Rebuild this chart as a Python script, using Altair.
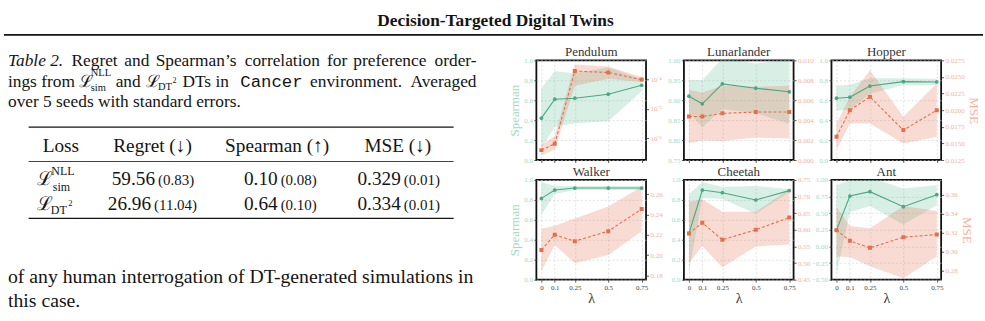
import altair as alt
import pandas as pd

# ---------------------------------------------------------------------------
# Text content of the page fragment
# ---------------------------------------------------------------------------
RUNNING_TITLE = "Decision-Targeted Digital Twins"
TABLE_HEADER = ["Loss", "Regret (↓)", "Spearman (↑)", "MSE (↓)"]
REGRET = ["59.56", "26.96"]
REGRET_SE = ["(0.83)", "(11.04)"]
SPEARMAN_TAB = ["0.10", "0.64"]
SPEARMAN_SE = ["(0.08)", "(0.10)"]
MSE_TAB = ["0.329", "0.334"]
MSE_SE = ["(0.01)", "(0.01)"]
BODY_LINES = ["of any human interrogation of DT-generated simulations in", "this case."]

# ---------------------------------------------------------------------------
# Panel data: lambda sweep, Spearman / MSE means with +-SE bands
# ---------------------------------------------------------------------------
LAMBDAS = [0, 0.1, 0.25, 0.5, 0.75]
ENVS = ["Pendulum", "Lunarlander", "Hopper", "Walker", "Cheetah", "Ant"]

SP_MEAN = {
    "Pendulum": [0.42, 0.61, 0.62, 0.66, 0.75],
    "Lunarlander": [0.910, 0.891, 0.941, 0.930, 0.921],
    "Hopper": [0.620, 0.630, 0.742, 0.786, 0.783],
    "Walker": [0.815, 0.899, 0.919, 0.919, 0.919],
    "Cheetah": [0.463, 0.899, 0.872, 0.799, 0.893],
    "Ant": [0.245, 0.758, 0.824, 0.597, 0.779],
}
SP_LO = {
    "Pendulum": [0.12, 0.33, 0.37, 0.39, 0.69],
    "Lunarlander": [0.869, 0.832, 0.877, 0.868, 0.840],
    "Hopper": [0.495, 0.505, 0.665, 0.752, 0.752],
    "Walker": [0.650, 0.860, 0.898, 0.898, 0.898],
    "Cheetah": [0.070, 0.820, 0.810, 0.660, 0.876],
    "Ant": [-0.420, 0.517, 0.607, 0.330, 0.620],
}
SP_HI = {
    "Pendulum": [0.72, 0.89, 0.87, 0.93, 0.81],
    "Lunarlander": [0.951, 0.950, 1.005, 0.992, 1.002],
    "Hopper": [0.745, 0.755, 0.820, 0.820, 0.814],
    "Walker": [0.980, 0.938, 0.940, 0.940, 0.940],
    "Cheetah": [0.856, 0.980, 0.930, 0.940, 0.910],
    "Ant": [0.920, 1.000, 1.040, 0.870, 0.920],
}
MSE_MEAN = {
    "Pendulum": [4.0e-7, 6.6e-7, 1.9e-4, 1.7e-4, 9.8e-5],
    "Lunarlander": [0.00437, 0.00437, 0.00468, 0.00481, 0.00481],
    "Hopper": [0.0160, 0.0200, 0.0220, 0.0170, 0.0200],
    "Walker": [0.2051, 0.2200, 0.2137, 0.2236, 0.2455],
    "Cheetah": [0.589, 0.621, 0.570, 0.600, 0.637],
    "Ant": [0.3226, 0.3114, 0.3040, 0.3152, 0.3180],
}
MSE_LO = {
    "Pendulum": [2.6e-7, 4.2e-7, 6.0e-5, 1.05e-4, 8.1e-5],
    "Lunarlander": [0.00169, 0.00196, 0.00190, 0.00226, 0.00216],
    "Hopper": [0.0140, 0.0180, 0.0180, 0.0150, 0.0160],
    "Walker": [0.1840, 0.2100, 0.1920, 0.2000, 0.2236],
    "Cheetah": [0.500, 0.551, 0.487, 0.550, 0.556],
    "Ant": [0.2950, 0.2944, 0.2846, 0.2720, 0.2950],
}
MSE_HI = {
    "Pendulum": [5.8e-7, 1.2e-6, 3.2e-4, 2.7e-4, 1.2e-4],
    "Lunarlander": [0.00705, 0.00678, 0.00746, 0.00736, 0.00746],
    "Hopper": [0.0180, 0.0220, 0.0260, 0.0190, 0.0240],
    "Walker": [0.2260, 0.2290, 0.2360, 0.2480, 0.2676],
    "Cheetah": [0.684, 0.692, 0.654, 0.654, 0.722],
    "Ant": [0.3470, 0.3270, 0.3247, 0.3480, 0.3427],
}

# Axis set-up per environment
SP_DOMAIN = {"Pendulum": [0, 1], "Lunarlander": [0.75, 1.0], "Hopper": [0, 1],
             "Walker": [0, 1], "Cheetah": [0, 1], "Ant": [-0.5, 1.0]}
SP_TICKS = {"Pendulum": [0, 0.2, 0.4, 0.6, 0.8, 1.0],
            "Lunarlander": [0.75, 0.8, 0.85, 0.9, 0.95, 1.0],
            "Hopper": [0, 0.2, 0.4, 0.6, 0.8, 1.0],
            "Walker": [0, 0.2, 0.4, 0.6, 0.8, 1.0],
            "Cheetah": [0, 0.2, 0.4, 0.6, 0.8, 1.0],
            "Ant": [-0.5, -0.25, 0, 0.25, 0.5, 0.75, 1.0]}
SP_FORMAT = {"Pendulum": ".1f", "Lunarlander": ".2f", "Hopper": ".1f",
             "Walker": ".1f", "Cheetah": ".1f", "Ant": ".2f"}
MSE_DOMAIN = {"Pendulum": [1.85e-7, 4.4e-4], "Lunarlander": [0, 0.010],
              "Hopper": [0.0125, 0.0275], "Walker": [0.1757, 0.2742],
              "Cheetah": [0.45, 0.75], "Ant": [0.2705, 0.3755]}
MSE_TICKS = {"Pendulum": [1e-6, 1e-5, 1e-4],
             "Lunarlander": [0, 0.002, 0.004, 0.006, 0.008, 0.010],
             "Hopper": [0.0125, 0.015, 0.0175, 0.02, 0.0225, 0.025, 0.0275],
             "Walker": [0.18, 0.20, 0.22, 0.24, 0.26],
             "Cheetah": [0.45, 0.5, 0.55, 0.6, 0.65, 0.7, 0.75],
             "Ant": [0.28, 0.30, 0.32, 0.34, 0.36]}
MSE_FORMAT = {"Pendulum": "", "Lunarlander": ".3f", "Hopper": ".4f",
              "Walker": ".2f", "Cheetah": ".2f", "Ant": ".2f"}

SERIF = "Liberation Serif"
MONO = "Liberation Mono"
SCRIPT = "DejaVu Serif"
INK = "#141414"
G_LINE, G_BAND, G_LABEL = "#4aa883", "#63bf9b", "#a3d9c4"
O_LINE, O_BAND, O_LABEL = "#e3704c", "#e3734f", "#f2b3a0"
GRID = "#cdcdcd"
PANEL_W, PANEL_H = 110, 100
X_DOMAIN = [-0.0375, 0.7825]

ONE = pd.DataFrame({"k": [0]})


def txt(s, x, y, size, align="left", font=SERIF, style=None, weight=None):
    kw = dict(align=align, baseline="alphabetic", fontSize=size, font=font, color=INK)
    if style:
        kw["fontStyle"] = style
    if weight:
        kw["fontWeight"] = weight
    return alt.Chart(ONE).mark_text(**kw).encode(
        x=alt.value(x), y=alt.value(y), text=alt.value(s))


def hrule(x1, x2, y, w):
    return alt.Chart(ONE).mark_rule(color=INK, strokeWidth=w).encode(
        x=alt.value(x1), x2=alt.value(x2), y=alt.value(y))


# ---------------------------------------------------------------------------
# Left column: running title, table caption, table and body text
# ---------------------------------------------------------------------------
CAP = 17.4
TAB = 19.3
SE = 15
BODY = 19.8
page = [
    txt(RUNNING_TITLE, 496, 19, 17.4, align="center", weight="bold"),
    hrule(3, 985, 27.5, 1.6),
    # caption line 1 (justified)
    txt("Table 2.", 7, 58.3, CAP, style="italic"),
    txt("Regret", 70.7, 58.3, CAP),
    txt("and", 123.7, 58.3, CAP),
    txt("Spearman’s", 155.1, 58.3, CAP),
    txt("correlation", 244.5, 58.3, CAP),
    txt("for", 327.0, 58.3, CAP),
    txt("preference", 353.4, 58.3, CAP),
    txt("order-", 477, 58.3, CAP, align="right"),
    # caption line 2 (justified)
    txt("ings from", 7, 79.3, CAP),
    txt("ℒ", 78, 79.3, 17, font=SCRIPT),
    txt("NLL", 90, 68.5, 10.5),
    txt("sim", 90, 84, 10.5),
    txt("and", 115, 79.3, CAP),
    txt("ℒ", 145.5, 79.3, 17, font=SCRIPT),
    txt("DT", 157.5, 83, 10.5),
    txt("2", 172, 76, 8),
    txt("DTs in", 182, 79.3, CAP),
    txt("Cancer", 240, 79.3, CAP, font=MONO),
    txt("environment.", 310, 79.3, CAP),
    txt("Averaged", 477, 79.3, CAP, align="right"),
    # caption line 3
    txt("over 5 seeds with standard errors.", 7, 100, CAP),
    # table
    hrule(27.7, 454, 120, 1.4),
    hrule(27.7, 454, 154.5, 0.8),
    hrule(27.7, 454, 211.5, 1.4),
    txt(TABLE_HEADER[0], 60, 145, TAB, align="center"),
    txt(TABLE_HEADER[1], 152, 145, TAB, align="center"),
    txt(TABLE_HEADER[2], 277, 145, TAB, align="center"),
    txt(TABLE_HEADER[3], 398, 145, TAB, align="center"),
    # loss symbols
    txt("ℒ", 36.5, 178.3, 19, font=SCRIPT),
    txt("NLL", 50.5, 168.5, 12),
    txt("sim", 52, 184, 12),
    txt("ℒ", 36.5, 203.5, 19, font=SCRIPT),
    txt("DT", 50, 207.5, 12),
    txt("2", 67.5, 199.5, 8.5),
    # body text
    txt(BODY_LINES[0], 7, 276.7, BODY),
    txt(BODY_LINES[1], 7, 300, BODY),
]

ROW_BASE = [178.3, 203.5]
for i in range(2):
    yb = ROW_BASE[i]
    for main, se, split in ((REGRET, REGRET_SE, [154.5, 150.5][i]),
                            (SPEARMAN_TAB, SPEARMAN_SE, 277.5),
                            (MSE_TAB, MSE_SE, 401)):
        page.append(txt(main[i], split, yb, TAB, align="right"))
        page.append(txt(se[i], split + 3, yb, SE))

left = alt.layer(*page).properties(
    width=537, height=321, view=alt.ViewBackground(stroke="transparent"))


# ---------------------------------------------------------------------------
# Dual-axis panels
# ---------------------------------------------------------------------------
def panel(env, row, col):
    df = pd.DataFrame({
        "lam": LAMBDAS,
        "sp": SP_MEAN[env], "sp_lo": SP_LO[env], "sp_hi": SP_HI[env],
        "mse": MSE_MEAN[env], "mse_lo": MSE_LO[env], "mse_hi": MSE_HI[env],
    })
    base = alt.Chart(df)

    x_axis_kw = dict(
        values=LAMBDAS, labelExpr="toString(datum.value)", labels=(row == 1),
        labelFontSize=7, labelFont=SERIF, labelColor="#444", labelPadding=1.5,
        labelFlush=False, labelOverlap=False,
        tickSize=2.5, tickColor="#333", tickWidth=0.8, domain=False,
        grid=True, gridColor=GRID, gridDash=[2, 2], gridWidth=0.6,
        titleFont=SERIF, titleFontSize=14, titleFontWeight="normal",
        titleColor="#333", titlePadding=1,
        title="λ" if row == 1 else None,
    )
    x = alt.X("lam:Q", scale=alt.Scale(domain=X_DOMAIN, nice=False, zero=False),
              axis=alt.Axis(**x_axis_kw))

    sp_scale = alt.Scale(domain=SP_DOMAIN[env], nice=False, zero=False)
    if env == "Pendulum":
        mse_scale = alt.Scale(type="log", domain=MSE_DOMAIN[env], nice=False)
    else:
        mse_scale = alt.Scale(domain=MSE_DOMAIN[env], nice=False, zero=False)

    left_kw = dict(
        orient="left", values=SP_TICKS[env], format=SP_FORMAT[env],
        labelColor=G_LABEL, labelFontSize=7, labelFont=SERIF, labelPadding=1.5,
        labelFlush=False, labelOverlap=False,
        tickSize=2.5, tickColor="#333", tickWidth=0.8, domain=False,
        grid=True, gridColor=GRID, gridDash=[2, 2], gridWidth=0.6,
        titleColor=G_LABEL, titleFont=SERIF, titleFontSize=13,
        titleFontWeight="normal", titlePadding=2,
        title="Spearman" if col == 0 else None,
    )
    right_kw = dict(
        orient="right", values=MSE_TICKS[env],
        labelColor=O_LABEL, labelFontSize=7, labelFont=SERIF, labelPadding=1.5,
        labelFlush=False, labelOverlap=False,
        tickSize=2.5, tickColor="#333", tickWidth=0.8, domain=False, grid=False,
        titleColor=O_LABEL, titleFont=SERIF, titleFontSize=13,
        titleFontWeight="normal", titlePadding=2,
        title="MSE" if col == 2 else None,
    )
    if env == "Pendulum":
        right_kw["labelExpr"] = ("datum.value >= 5e-5 ? '10⁻⁴' : "
                                 "(datum.value >= 5e-6 ? '10⁻⁵' : '10⁻⁶')")
    else:
        right_kw["format"] = MSE_FORMAT[env]

    sp_band = base.mark_area(color=G_BAND, opacity=0.25, clip=True).encode(
        x=x, y=alt.Y("sp_lo:Q", scale=sp_scale, axis=alt.Axis(**left_kw)),
        y2="sp_hi:Q")
    mse_band = base.mark_area(color=O_BAND, opacity=0.25, clip=True).encode(
        x=x, y=alt.Y("mse_lo:Q", scale=mse_scale, axis=alt.Axis(**right_kw)),
        y2="mse_hi:Q")
    sp_line = base.mark_line(
        color=G_LINE, strokeWidth=1.1, clip=True,
        point=alt.OverlayMarkDef(shape="circle", size=14, filled=True, color=G_LINE),
    ).encode(x=x, y=alt.Y("sp:Q", scale=sp_scale, axis=None))
    mse_line = base.mark_line(
        color=O_LINE, strokeWidth=1.1, strokeDash=[3, 2], clip=True,
        point=alt.OverlayMarkDef(shape="square", size=16, filled=True, color=O_LINE),
    ).encode(x=x, y=alt.Y("mse:Q", scale=mse_scale, axis=None))

    # the title sits above the axis-label overhang; a small negative offset
    # brings it down close to the frame
    return alt.layer(sp_band, mse_band, sp_line, mse_line).resolve_scale(
        y="independent"
    ).properties(
        width=PANEL_W, height=PANEL_H,
        title=alt.TitleParams(env, font=SERIF, fontSize=13, fontWeight="normal",
                              color="#333", offset=-3, frame="group"),
        view=alt.ViewBackground(stroke="#111", strokeWidth=1.8),
    )


def spacer():
    return alt.Chart(ONE).mark_text().encode(
        x=alt.value(0), y=alt.value(0), text=alt.value("")
    ).properties(width=10, height=33, view=alt.ViewBackground(stroke="transparent"))


panels = [panel(env, i // 3, i % 3) for i, env in enumerate(ENVS)]
grid = alt.concat(spacer(), spacer(), spacer(), *panels, columns=3,
                  spacing={"row": 20, "column": 38}, bounds="flush")

chart = alt.hconcat(left, grid, spacing=0, bounds="flush").properties(
    padding=0, background="white"
).configure_view(stroke="transparent")

chart.save("out.html", embed_options={"renderer": "svg", "actions": False})
